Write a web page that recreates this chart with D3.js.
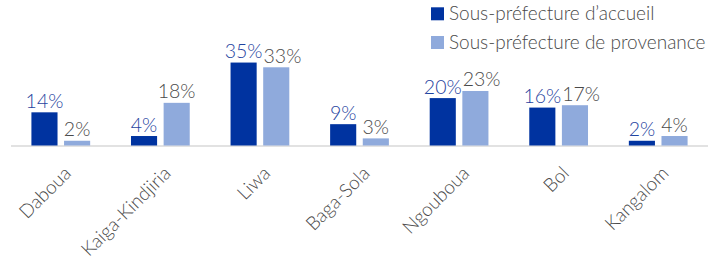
<!DOCTYPE html>
<html>
<head>
<meta charset="utf-8">
<script src="https://cdn.jsdelivr.net/npm/d3@7"></script>
<style>
  html, body { margin: 0; padding: 0; background: #fff; }
  svg { display: block; font-family: "Lato", "Open Sans", sans-serif; font-weight: 300; }
</style>
</head>
<body>
<svg id="chart" width="712" height="257"></svg>
<script>
const categories = ["Daboua", "Kaiga-Kindjiria", "Liwa", "Baga-Sola", "Ngouboua", "Bol", "Kangalom"];
const seriesNames = ["Sous-préfecture d’accueil", "Sous-préfecture de provenance"];
const accueil = [14, 4, 35, 9, 20, 16, 2];
const provenance = [2, 18, 33, 3, 23, 17, 4];
const colors = ["#0033A0", "#8FAADC"];
const labelColors = ["#1F44A0", "#4A4A4A"];

const svg = d3.select("#chart");
const baseY = 145.5;

const x0 = d3.scaleBand().domain(categories).range([11, 708]).paddingInner(0.41).paddingOuter(0.205);
const x1 = d3.scaleBand().domain([0, 1]).range([0, x0.bandwidth()]).paddingInner(0.2).paddingOuter(0);
const y = d3.scaleLinear().domain([0, 40]).range([baseY, baseY - 40 * 2.37]);

const data = categories.map((c, i) => ({ cat: c, vals: [accueil[i], provenance[i]] }));

// axis line
svg.append("line")
  .attr("x1", 11).attr("x2", 708)
  .attr("y1", baseY + 0.5).attr("y2", baseY + 0.5)
  .attr("stroke", "#D9D9D9").attr("stroke-width", 1.6);

const g = svg.selectAll("g.cat").data(data).join("g")
  .attr("class", "cat")
  .attr("transform", d => `translate(${x0(d.cat)},0)`);

g.selectAll("rect").data(d => d.vals.map((v, k) => ({ v, k }))).join("rect")
  .attr("x", d => x1(d.k))
  .attr("y", d => y(d.v))
  .attr("width", x1.bandwidth())
  .attr("height", d => baseY - y(d.v))
  .attr("fill", d => colors[d.k]);

g.selectAll("text.val").data(d => d.vals.map((v, k) => ({ v, k }))).join("text")
  .attr("class", "val")
  .attr("x", d => x1(d.k) + x1.bandwidth() / 2)
  .attr("y", d => y(d.v) - 4.5)
  .attr("text-anchor", "middle")
  .attr("font-size", 19.5)
  .attr("fill", d => labelColors[d.k])
  .text(d => d.v + "%");

// nudge the second label of a pair to the right when it collides with the first
g.each(function () {
  const t = d3.select(this).selectAll("text.val").nodes();
  const a = t[0].getBBox(), b = t[1].getBBox();
  const vOverlap = a.y < b.y + b.height - 4 && b.y < a.y + a.height - 4;
  const hOverlap = a.x + a.width - b.x;
  if (vOverlap && hOverlap > 0) {
    d3.select(t[1]).attr("x", +d3.select(t[1]).attr("x") + hOverlap + 1);
  }
});

// category labels
svg.selectAll("text.cat").data(categories).join("text")
  .attr("class", "cat")
  .attr("transform", c => `translate(${x0(c) + x0.bandwidth() / 2 + 2},${165}) rotate(-45)`)
  .attr("text-anchor", "end")
  .attr("dy", "0.71em")
  .attr("font-size", 19)
  .attr("fill", "#4A4A4A")
  .text(c => c);

// legend
const leg = svg.selectAll("g.leg").data(seriesNames).join("g")
  .attr("class", "leg")
  .attr("transform", (d, i) => `translate(431,${7.3 + i * 28.7})`);
leg.append("rect").attr("width", 13).attr("height", 13).attr("fill", (d, i) => colors[i]);
leg.append("text").attr("x", 18).attr("y", 12.8)
  .attr("font-size", 19).attr("fill", "#4A4A4A").text(d => d);
</script>
</body>
</html>
